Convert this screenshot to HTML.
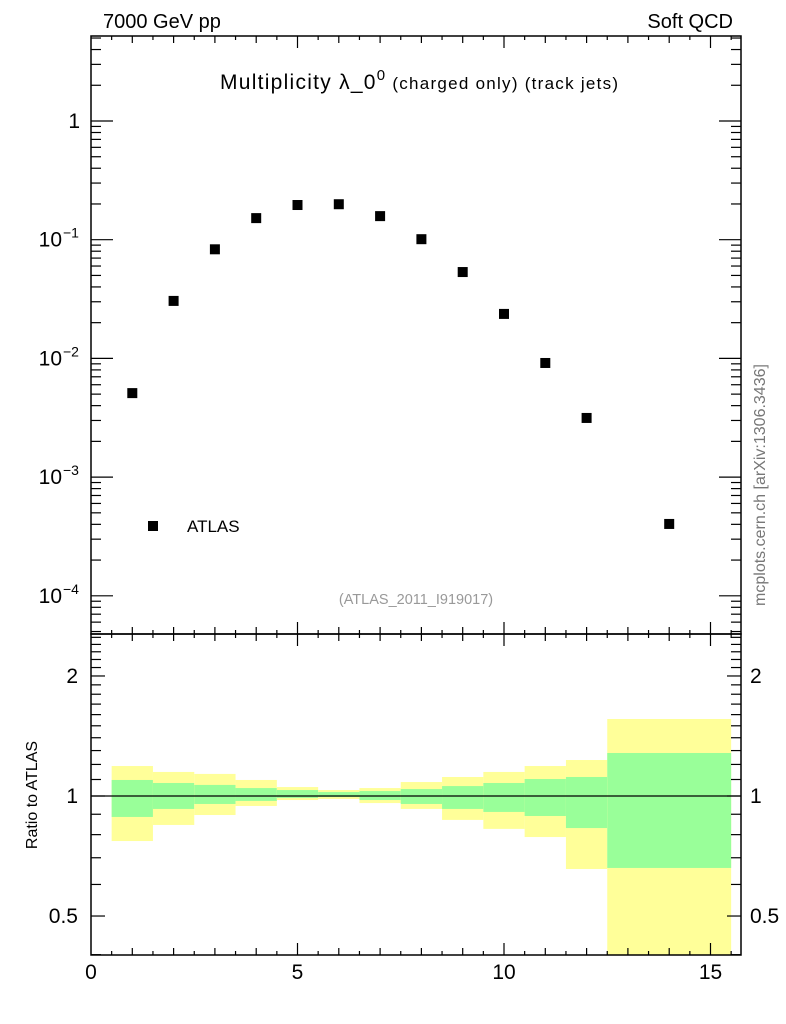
<!DOCTYPE html>
<html><head><meta charset="utf-8"><style>
body{margin:0;background:#fff}
svg{display:block;font-family:"Liberation Sans",sans-serif}
</style></head><body>
<svg id="c" width="786" height="1024" viewBox="0 0 786 1024" xmlns="http://www.w3.org/2000/svg">
<rect width="786" height="1024" fill="#fff"/>
<g id="bands"></g>
<g id="axes"></g>
<g id="pts"></g>
<text x="103" y="28" font-size="20">7000 GeV pp</text>
<text x="733" y="28" font-size="20" text-anchor="end">Soft QCD</text>
<text x="220" y="89" font-size="21" textLength="398" lengthAdjust="spacing">Multiplicity λ_0<tspan dy="-9" font-size="15">0</tspan><tspan dy="9" font-size="17"> (charged only) (track jets)</tspan></text>
<text x="416" y="604" text-anchor="middle" font-size="14.5" fill="#999">(ATLAS_2011_I919017)</text>
<text transform="translate(765,485) rotate(-90)" text-anchor="middle" font-size="16" fill="#777">mcplots.cern.ch [arXiv:1306.3436]</text>
<text transform="translate(37,795) rotate(-90)" text-anchor="middle" font-size="16">Ratio to ATLAS</text>
<rect x="148" y="521" width="10" height="10" fill="#000"/>
<text x="187" y="532" font-size="17">ATLAS</text>
</svg>
<script>
const xs=[1,2,3,4,5,6,7,8,9,10,11,12,14];
const vals=[0.0051,0.0305,0.083,0.152,0.196,0.199,0.158,0.101,0.0534,0.0237,0.00915,0.00315,0.000403];
const binLo=[0.5,1.5,2.5,3.5,4.5,5.5,6.5,7.5,8.5,9.5,10.5,11.5,12.5];
const binHi=[1.5,2.5,3.5,4.5,5.5,6.5,7.5,8.5,9.5,10.5,11.5,12.5,15.5];
const yelHi=[1.189,1.149,1.136,1.097,1.053,1.035,1.047,1.084,1.116,1.149,1.189,1.231,1.56];
const yelLo=[0.771,0.846,0.896,0.944,0.977,0.983,0.960,0.928,0.871,0.827,0.789,0.656,0.35];
const grnHi=[1.097,1.078,1.066,1.047,1.035,1.023,1.029,1.041,1.059,1.078,1.103,1.116,1.282];
const grnLo=[0.886,0.928,0.955,0.972,0.989,0.994,0.977,0.955,0.928,0.912,0.891,0.831,0.66];
const NS="http://www.w3.org/2000/svg";
const L=91,R=741,T=36,M=634,B=955;
const X=v=>L+v*41.3;
const Y=v=>121-Math.log10(v)*118.7;
const YR=v=>Math.max(M,Math.min(B,796-Math.log10(v)*398.7));
function mk(p,t,a){const e=document.createElementNS(NS,t);for(const k in a)e.setAttribute(k,a[k]);p.appendChild(e);return e;}
const bands=document.getElementById('bands'),ax=document.getElementById('axes'),pts=document.getElementById('pts');
for(let i=0;i<binLo.length;i++){
 let r=mk(bands,'rect',{x:X(binLo[i]),width:X(binHi[i])-X(binLo[i]),y:YR(yelHi[i]),height:YR(yelLo[i])-YR(yelHi[i]),fill:'#ffff99'});
 
 
 let g=mk(bands,'rect',{x:X(binLo[i]),width:X(binHi[i])-X(binLo[i]),y:YR(grnHi[i]),height:YR(grnLo[i])-YR(grnHi[i]),fill:'#99ff99'});
 
 
}
for(let i=0;i<xs.length;i++){
 let p=mk(pts,'rect',{x:X(xs[i])-5,y:Y(vals[i])-5,width:10,height:10,fill:'#000'});
 
 
}
const s={stroke:'#000','stroke-width':1.5,fill:'none'};
mk(ax,'rect',Object.assign({x:L,y:T,width:R-L,height:M-T},s));
mk(ax,'rect',Object.assign({x:L,y:M,width:R-L,height:B-M},s));
mk(ax,'line',{x1:L,x2:R,y1:796,y2:796,stroke:'#000','stroke-width':1.2});
for(let d=-5;d<=1;d++)for(let m=1;m<10;m++){
 const v=m*Math.pow(10,d),y=Y(v);if(y<T||y>M)continue;const len=m==1?22:10;
 mk(ax,'line',{x1:L,x2:L+len,y1:y,y2:y,stroke:'#000','stroke-width':1.2});
 mk(ax,'line',{x1:R,x2:R-len,y1:y,y2:y,stroke:'#000','stroke-width':1.2});
}
const labs=[[0,'1'],[-1,'10'],[-2,'10'],[-3,'10'],[-4,'10']];
labs.forEach(([e,t])=>{const y=Y(Math.pow(10,e));
 const tx=mk(ax,'text',{x:e==0?80:62,y:y+7,'font-size':21,'text-anchor':'end'});tx.textContent=t;
 
 
 if(e<0){const sp=mk(ax,'text',{x:63,y:y-2,'font-size':14});sp.textContent='−'+(-e);}
});
for(let k=4;k<=25;k++){const v=k/10,y=YR(v);if(y<=M||y>=B)continue;const len=(k==5||k==10||k==20)?14:10;
 mk(ax,'line',{x1:L,x2:L+len,y1:y,y2:y,stroke:'#000','stroke-width':1.2});
 mk(ax,'line',{x1:R,x2:R-len,y1:y,y2:y,stroke:'#000','stroke-width':1.2});}
[[2,'2'],[1,'1'],[0.5,'0.5']].forEach(([v,t])=>{
 const a=mk(ax,'text',{x:78,y:YR(v)+7,'font-size':21,'text-anchor':'end'});a.textContent=t;
 
 
 const b=mk(ax,'text',{x:750,y:YR(v)+7,'font-size':21});b.textContent=t;
 
 
});
for(let k=1;k<=31;k++){const v=k/2,x=X(v);if(x>=R)continue;const len=(k%10==0)?12:(k%2==0?7:4);
 [[T,1],[M,-1],[M,1],[B,-1]].forEach(([y,dir])=>mk(ax,'line',{x1:x,x2:x,y1:y,y2:y+dir*len,stroke:'#000','stroke-width':1.2}));}
[0,5,10,15].forEach(v=>{const t=mk(ax,'text',{x:X(v),y:979,'font-size':21,'text-anchor':'middle'});t.textContent=v;
 
 });
</script>
</body></html>
